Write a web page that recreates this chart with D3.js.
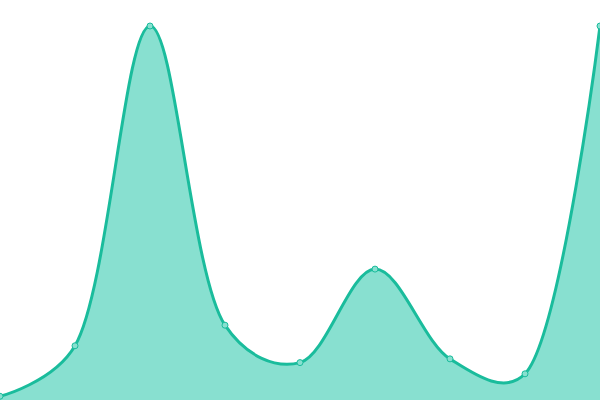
<!DOCTYPE html>
<html>
<head>
<meta charset="utf-8">
<script src="https://cdn.jsdelivr.net/npm/d3@7"></script>
<style>
  html, body { margin: 0; padding: 0; background: #fff; }
  svg { display: block; }
</style>
</head>
<body>
<svg width="600" height="400"></svg>
<script>
// DATA
const indexes = [0, 1, 2, 3, 4, 5, 6, 7, 8]
const values = [1, 14.5, 100, 20, 10, 35, 11, 7, 100]

// SETUP
const svg = d3.select("svg")

const scaleX = d3.scaleLinear()
  .domain([0, 8])
  .range([0, 600])

const scaleY = d3.scaleLinear()
  .domain([0, 100])
  .range([400, 26])

const points = indexes.map((d, i) => { return { x: d, y: values[i] } })

const curve = d3.curveCatmullRom.alpha(0.35)

const area = d3.area()
  .x((d) => { return scaleX(d.x) })
  .y0(scaleY(0))
  .y1((d) => { return scaleY(d.y) })
  .curve(curve)

const line = d3.line()
  .x((d) => { return scaleX(d.x) })
  .y((d) => { return scaleY(d.y) })
  .curve(curve)

svg.append("path")
  .datum(points)
  .attr("d", area)
  .attr("fill", "#88e0d0")

svg.append("path")
  .datum(points)
  .attr("d", line)
  .attr("fill", "none")
  .attr("stroke", "#1abc9c")
  .attr("stroke-width", 3)

svg.selectAll("circle.dot")
  .data(points)
  .enter()
  .append("circle")
  .attr("class", "dot")
  .attr("cx", (d) => { return scaleX(d.x) })
  .attr("cy", (d) => { return scaleY(d.y) })
  .attr("r", 3)
  .attr("fill", "#88e0d0")
  .attr("stroke", "#1abc9c")
  .attr("stroke-width", 1)
</script>
</body>
</html>
